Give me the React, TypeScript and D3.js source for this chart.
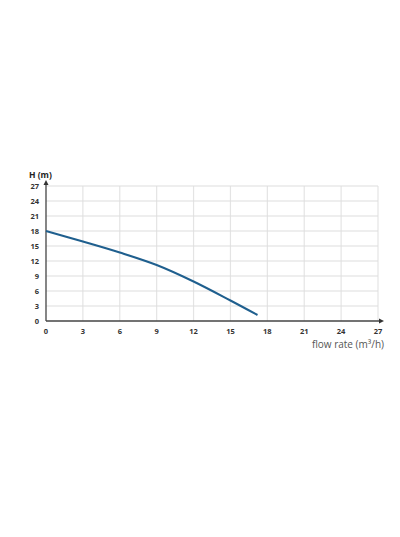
import React from 'react';
import * as d3 from 'd3';

const flowRates = [0, 3, 6, 9, 12, 15, 17.2];
const heads = [18, 15.9, 13.7, 11.2, 7.9, 4.1, 1.2];
const xTicks = [0, 3, 6, 9, 12, 15, 18, 21, 24, 27];
const yTicks = [0, 3, 6, 9, 12, 15, 18, 21, 24, 27];

const App: React.FC = () => {
  const width = 400;
  const height = 537;
  const left = 46;
  const right = 378;
  const top = 186;
  const bottom = 321;

  const x = d3.scaleLinear().domain([0, 27]).range([left, right]);
  const y = d3.scaleLinear().domain([0, 27]).range([bottom, top]);

  const line = d3
    .line<number>()
    .x((_, i) => x(flowRates[i]))
    .y((d) => y(d))
    .curve(d3.curveCatmullRom);

  const font = "'Open Sans', 'DejaVu Sans', sans-serif";

  return (
    <svg
      width={width}
      height={height}
      style={{ position: 'absolute', left: 0, top: 0, background: '#fff' }}
    >
      {/* grid */}
      {xTicks.slice(1).map((t) => (
        <line key={'gx' + t} x1={x(t)} x2={x(t)} y1={y(27)} y2={y(0)} stroke="#e4e4e4" strokeWidth={1.2} />
      ))}
      {yTicks.slice(1).map((t) => (
        <line key={'gy' + t} x1={x(0)} x2={x(27)} y1={y(t)} y2={y(t)} stroke="#dedede" strokeWidth={1.2} />
      ))}

      {/* axes */}
      <line x1={x(0)} x2={x(0)} y1={y(0)} y2={top - 3} stroke="#444" strokeWidth={1.3} />
      <path d={`M${x(0) - 2.5},${top - 1} L${x(0)},${top - 6} L${x(0) + 2.5},${top - 1} Z`} fill="#333" />
      <line x1={x(0)} x2={right + 2} y1={y(0)} y2={y(0)} stroke="#444" strokeWidth={1.3} />
      <path d={`M${right + 1},${bottom - 2.5} L${right + 6},${bottom} L${right + 1},${bottom + 2.5} Z`} fill="#333" />

      {/* tick labels */}
      {xTicks.map((t) => (
        <text key={'tx' + t} x={x(t)} y={bottom + 13} textAnchor="middle" fontSize={7.5} fontWeight="bold" fill="#333" fontFamily={font}>
          {t}
        </text>
      ))}
      {yTicks.map((t) => (
        <text key={'ty' + t} x={39} y={y(t) + 2.5} textAnchor="end" fontSize={7.5} fontWeight="bold" fill="#333" fontFamily={font}>
          {t}
        </text>
      ))}

      {/* axis titles */}
      <text x={29} y={178} fontSize={8.5} fontWeight="bold" fill="#222" fontFamily={font}>
        H (m)
      </text>
      <text x={384} y={348} textAnchor="end" fontSize={10} fill="#555" fontFamily={font}>
        flow rate (m³/h)
      </text>

      {/* curve */}
      <path d={line(heads) || ''} fill="none" stroke="#1f5f8e" strokeWidth={2} />
    </svg>
  );
};

export default App;
